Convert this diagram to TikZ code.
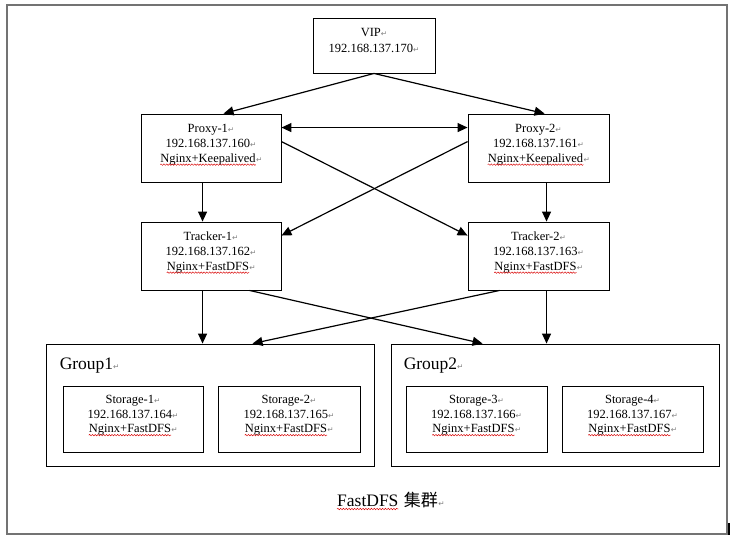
\documentclass[tikz,border=0pt]{standalone}
\usepackage{fontspec}
\setmainfont{Liberation Serif}
\newfontfamily\cjk{Noto Sans CJK SC}
\newfontfamily\symfnt{DejaVu Sans}
\usetikzlibrary{arrows.meta,calc,decorations.pathmorphing}
\newcommand\retm{{\symfnt\fontsize{7.5}{7.5}\selectfont\textcolor{gray}{\symbol{"21B5}}}}
% three text lines inside a box: name, first baseline offset below top
\newcommand\trio[6]{%
  \node[txt, anchor=base] (#1a) at ([yshift=-#6]#2.north) {#3\retm};
  \node[txt, anchor=base] (#1b) at ([yshift=-15pt]#1a.base) {#4\retm};
  \node[txt, anchor=base] (#1c) at ([xshift=-3pt,yshift=-14.5pt]#1b.base) {#5};
  \node[retn, anchor=base west] (#1r) at (#1c.base east) {\retm};
  \draw[wave] ([yshift=-2.6pt]#1c.base west) -- ([yshift=-2.6pt]#1c.base east);
}
\begin{document}
\begin{tikzpicture}[x=1pt,y=-1pt,
  box/.style={draw=black, line width=0.9pt, inner sep=0pt},
  txt/.style={font=\fontsize{12.5}{15}\selectfont, inner sep=0pt},
  retn/.style={inner sep=0pt},
  big/.style={font=\fontsize{17.5}{20}\selectfont, inner sep=0pt},
  wave/.style={draw=red!85!black, line width=0.45pt, decorate,
    decoration={snake, amplitude=0.75pt, segment length=2.8pt}},
  arr/.style={line width=1.2pt, -{Triangle[length=10pt,width=9pt]}},
  darr/.style={line width=1.2pt, {Triangle[length=10pt,width=9pt]}-{Triangle[length=10pt,width=9pt]}},
]
\useasboundingbox (0,0) rectangle (732,542);
\fill[white] (0,0) rectangle (732,542);
\draw[black!55, line width=1.5pt] (7,5) rectangle (727,534);
\fill[black] (727.5,523) rectangle (729.5,535);

% boxes
\node[box, minimum width=122pt, minimum height=55pt] (vip) at (374,45.5) {};
\node[box, minimum width=140pt, minimum height=68pt] (p1) at (211,148) {};
\node[box, minimum width=141pt, minimum height=68pt] (p2) at (538.5,148) {};
\node[box, minimum width=140pt, minimum height=68pt] (t1) at (211,256) {};
\node[box, minimum width=141pt, minimum height=68pt] (t2) at (538.5,256) {};
\node[box, minimum width=328pt, minimum height=122pt] (g1) at (210,405) {};
\node[box, minimum width=328pt, minimum height=122pt] (g2) at (555,405) {};
\node[box, minimum width=140pt, minimum height=66pt] (s1) at (133,419) {};
\node[box, minimum width=142pt, minimum height=66pt] (s2) at (289,419) {};
\node[box, minimum width=141pt, minimum height=66pt] (s3) at (476.5,419) {};
\node[box, minimum width=141pt, minimum height=66pt] (s4) at (632.5,419) {};

% texts
\node[txt, anchor=base] (vipa) at ([yshift=-19pt]vip.north) {VIP\retm};
\node[txt, anchor=base] (vipb) at ([yshift=-16pt]vipa.base) {192.168.137.170\retm};
\trio{p1}{p1}{Proxy-1}{192.168.137.160}{Nginx+Keepalived}{19pt}
\trio{p2}{p2}{Proxy-2}{192.168.137.161}{Nginx+Keepalived}{19pt}
\trio{t1}{t1}{Tracker-1}{192.168.137.162}{Nginx+FastDFS}{19pt}
\trio{t2}{t2}{Tracker-2}{192.168.137.163}{Nginx+FastDFS}{19pt}
\trio{s1}{s1}{Storage-1}{192.168.137.164}{Nginx+FastDFS}{17.5pt}
\trio{s2}{s2}{Storage-2}{192.168.137.165}{Nginx+FastDFS}{17.5pt}
\trio{s3}{s3}{Storage-3}{192.168.137.166}{Nginx+FastDFS}{17.5pt}
\trio{s4}{s4}{Storage-4}{192.168.137.167}{Nginx+FastDFS}{17.5pt}
\node[big, anchor=west] (g1l) at ([xshift=14pt,yshift=-22pt]g1.north west) {Group1\retm};
\node[big, anchor=west] (g2l) at ([xshift=13pt,yshift=-22pt]g2.north west) {Group2\retm};
\node[big, anchor=base west] (capa) at (337,506) {FastDFS};
\node[big, anchor=base west, font=\cjk\fontsize{17}{20}\selectfont] (capb) at ([xshift=5pt]capa.base east) {集群};
\node[retn, anchor=base west] (capr) at (capb.base east) {\retm};
\draw[wave] ([yshift=-3pt]capa.base west) -- ([yshift=-3pt]capa.base east);

% connectors
\draw[arr] (vip.south) -- ([xshift=83pt]p1.north west);
\draw[arr] (vip.south) -- ([xshift=77pt]p2.north west);
\draw[darr] ([yshift=-14pt]p1.north east) -- ([yshift=-14pt]p2.north west);
\draw[arr] ([yshift=-28pt]p1.north east) -- ([yshift=-14pt]t2.north west);
\draw[arr] ([yshift=-28pt]p2.north west) -- ([yshift=-14pt]t1.north east);
\draw[arr] ([xshift=62pt]p1.south west) -- ([xshift=62pt]t1.north west);
\draw[arr] ([xshift=79pt]p2.south west) -- ([xshift=79pt]t2.north west);
\draw[arr] ([xshift=62pt]t1.south west) -- ([xshift=157pt]g1.north west);
\draw[arr] ([xshift=79pt]t2.south west) -- ([xshift=156pt]g2.north west);
\draw[arr] ([xshift=109pt]t1.south west) -- ([xshift=92pt]g2.north west);
\draw[arr] ([xshift=32pt]t2.south west) -- ([xshift=207pt]g1.north west);
\end{tikzpicture}
\end{document}
